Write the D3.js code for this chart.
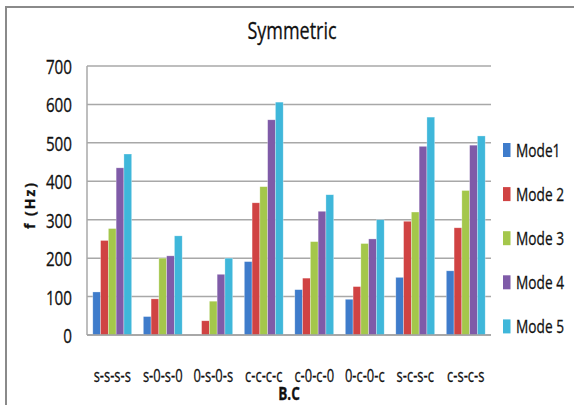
<!DOCTYPE html>
<html>
<head>
<meta charset="utf-8">
<script src="https://cdn.jsdelivr.net/npm/d3@7/dist/d3.min.js"></script>
<style>
  body { margin: 0; background: #fff; }
  text { font-family: "Open Sans", sans-serif; fill: #111; stroke: #111; stroke-width: 0.3px; }
</style>
</head>
<body>
<div id="chart"></div>
<script>
const categories = ["s-s-s-s", "s-0-s-0", "0-s-0-s", "c-c-c-c", "c-0-c-0", "0-c-0-c", "s-c-s-c", "c-s-c-s"];
const modeNames = ["Mode1", "Mode 2", "Mode 3", "Mode 4", "Mode 5"];
const mode1 = [112, 48, 0, 191, 118, 93, 150, 167];
const mode2 = [246, 94, 37, 344, 148, 126, 296, 279];
const mode3 = [277, 200, 88, 386, 243, 238, 320, 376];
const mode4 = [435, 206, 158, 560, 322, 250, 491, 494];
const mode5 = [471, 258, 200, 606, 365, 300, 567, 518];
const yTicks = [0, 100, 200, 300, 400, 500, 600, 700];

const series = [mode1, mode2, mode3, mode4, mode5];
const colors = ["#3f7ccb", "#d04343", "#a4c74b", "#7f5ba8", "#3fb7da"];

let width = 574, height = 405;
let margin = { top: 66, right: 83, bottom: 70, left: 87 };
let plotW = width - margin.left - margin.right,
    plotH = height - margin.top - margin.bottom;

let svg = d3.select("#chart")
    .append("svg")
    .attr("width", width)
    .attr("height", height);

// outer frame (only top and left edges fall inside the picture)
svg.append("path")
    .attr("d", "M6,405 L6,7 L574,7")
    .attr("fill", "none")
    .attr("stroke", "#8a8a8a")
    .attr("stroke-width", 2);

let g = svg.append("g")
    .attr("transform", "translate(" + margin.left + "," + margin.top + ")");

let x0 = d3.scaleBand()
    .domain(categories)
    .range([0, plotW])
    .paddingInner(0.23)
    .paddingOuter(0.115);

let x1 = d3.scaleBand()
    .domain(d3.range(modeNames.length))
    .range([0, x0.bandwidth()]);

let y = d3.scaleLinear()
    .domain([0, 700])
    .range([plotH, 0]);

// gridlines
g.selectAll("line.grid")
    .data(yTicks)
    .enter()
    .append("line")
    .attr("x1", 0)
    .attr("x2", plotW)
    .attr("y1", function (d) { return y(d); })
    .attr("y2", function (d) { return y(d); })
    .attr("stroke", "#a8a8a8")
    .attr("stroke-width", 1.5);

// left axis line
g.append("line")
    .attr("x1", 0).attr("x2", 0)
    .attr("y1", 0).attr("y2", plotH)
    .attr("stroke", "#a8a8a8")
    .attr("stroke-width", 1.5);

// y tick labels
g.selectAll("text.ytick")
    .data(yTicks)
    .enter()
    .append("text")
    .attr("transform", function (d) { return "translate(-15," + (y(d) + 8) + ") scale(0.78,1)"; })
    .attr("text-anchor", "end")
    .attr("font-size", "19.5px")
    .text(function (d) { return d; });

// bars
let groups = g.selectAll("g.cat")
    .data(categories)
    .enter()
    .append("g")
    .attr("transform", function (d) { return "translate(" + x0(d) + ",0)"; });

groups.selectAll("rect")
    .data(function (d, i) { return series.map(function (s, k) { return { k: k, v: s[i] }; }); })
    .enter()
    .append("rect")
    .attr("x", function (d) { return x1(d.k); })
    .attr("y", function (d) { return y(d.v); })
    .attr("width", x1.bandwidth())
    .attr("height", function (d) { return plotH - y(d.v); })
    .attr("fill", function (d) { return colors[d.k]; })
    .attr("stroke", "#ffffff")
    .attr("stroke-opacity", 0.5)
    .attr("stroke-width", 0.6);

// bottom axis line
g.append("line")
    .attr("x1", 0).attr("x2", plotW)
    .attr("y1", plotH).attr("y2", plotH)
    .attr("stroke", "#a0a0a0")
    .attr("stroke-width", 1.5);

// x category labels
g.selectAll("text.xtick")
    .data(categories)
    .enter()
    .append("text")
    .attr("transform", function (d) { return "translate(" + (x0(d) + x0.bandwidth() / 2) + "," + (plotH + 47) + ") scale(0.72,1)"; })
    .attr("text-anchor", "middle")
    .attr("font-size", "18px")
    .text(function (d) { return d; });

// axis titles
svg.append("text")
    .attr("transform", "translate(" + (margin.left + plotW / 2) + ",400) scale(0.8,1)")
    .attr("text-anchor", "middle")
    .attr("font-size", "17px")
    .attr("font-weight", "bold")
    .text("B.C");

svg.append("text")
    .attr("transform", "translate(35,205) rotate(-90)")
    .attr("text-anchor", "middle")
    .attr("font-size", "14px")
    .attr("font-weight", "bold")
    .attr("letter-spacing", "2px")
    .text("f (Hz)");

// chart title
svg.append("text")
    .attr("transform", "translate(292,39) scale(0.75,1)")
    .attr("text-anchor", "middle")
    .attr("font-size", "24px")
    .text("Symmetric");

// legend
let legend = svg.selectAll("g.legend")
    .data(modeNames)
    .enter()
    .append("g")
    .attr("transform", function (d, i) { return "translate(503," + (150 + i * 44.1) + ")"; });

legend.append("rect")
    .attr("x", 0)
    .attr("y", -7)
    .attr("width", 7.5)
    .attr("height", 14)
    .attr("fill", function (d, i) { return colors[i]; });

legend.append("text")
    .attr("transform", "translate(13,6.5) scale(0.74,1)")
    .attr("font-size", "18.5px")
    .text(function (d) { return d; });
</script>
</body>
</html>
